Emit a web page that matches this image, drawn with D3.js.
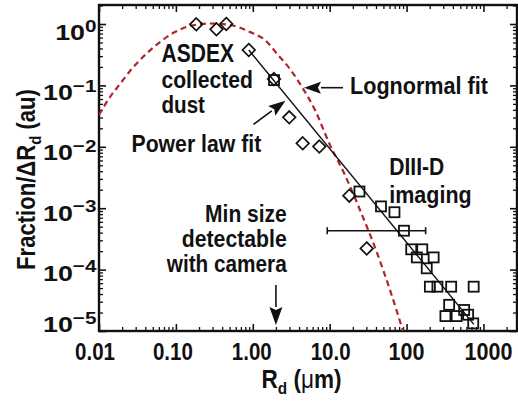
<!DOCTYPE html>
<html>
<head>
<meta charset="utf-8">
<script src="https://cdn.jsdelivr.net/npm/d3@7"></script>
<style>
  body { margin: 0; background: #fff; }
  text { font-family: "Liberation Sans", Arial, Helvetica, sans-serif; font-weight: bold; fill: #111; }
</style>
</head>
<body>
<script>
// axis ticks
const xTicks = [0.01, 0.1, 1, 10, 100, 1000];
const xTickLabels = ["0.01", "0.10", "1.00", "10.0", "100", "1000"];
const yTicks = [1, 0.1, 0.01, 1e-3, 1e-4, 1e-5];
const yTickExps = ["0", "\u22121", "\u22122", "\u22123", "\u22124", "\u22125"];

// ASDEX collected dust (diamonds)
const asdexR = [0.184, 0.337, 0.452, 0.887, 1.887, 2.98, 4.46, 7.33, 18.0, 30.3];
const asdexF = [0.99, 0.82, 1.0, 0.377, 0.127, 0.0302, 0.0114, 0.0101, 0.0016, 2.21e-4];

// DIII-D imaging (squares)
const diiidR = [1.89, 24.4, 46.5, 69.6, 92.5, 115, 160, 136, 225, 183, 201, 252, 380, 746, 358, 561, 320, 448, 632, 736];
const diiidF = [0.122, 1.87e-3, 1.07e-3, 8.6e-4, 4.3e-4, 2.14e-4, 2.14e-4, 1.58e-4, 1.58e-4, 1.05e-4,
                5.27e-5, 5.27e-5, 5.27e-5, 5.27e-5, 2.67e-5, 2.2e-5, 1.75e-5, 1.75e-5, 1.84e-5, 1.33e-5];

// horizontal error bar on one DIII-D point
const errR = [9.3, 177];
const errF = 4.3e-4;

// lognormal fit (red dashed)
const lognormR = [0.0100, 0.0139, 0.01875, 0.0253, 0.0373, 0.0621, 0.0973, 0.1524, 0.2773, 0.505, 0.920,
                  1.443, 2.128, 3.048, 4.366, 6.44, 10.1, 15.8, 24.8, 40.0, 62.7, 89.8];
const lognormF = [0.0330, 0.0647, 0.1054, 0.1717, 0.290, 0.509, 0.741, 0.928, 1.019, 0.963, 0.741,
                  0.549, 0.313, 0.185, 0.0942, 0.0397, 0.01069, 3.47e-3, 9.35e-4, 2.08e-4, 4.16e-5, 1.0e-5];

// power law fit (solid black)
const powerR = [0.887, 750];
const powerF = [0.377, 1.28e-5];

const ink = "#111";
const red = "#b3232b";

const svg = d3.select("body").append("svg")
  .attr("width", 518)
  .attr("height", 404);

const x = d3.scaleLog().domain([0.01, 2730]).range([99, 517]);
const y = d3.scaleLog().domain([1e-5, 2.04]).range([331, 5]);

svg.append("clipPath").attr("id", "plot")
  .append("rect").attr("x", 99).attr("y", 5).attr("width", 418).attr("height", 326);

// minor ticks 2..9 in each decade
const minorX = [];
for (let d = -2; d <= 3; d++) for (let m = 2; m <= 9; m++) { const v = m * Math.pow(10, d); if (v <= 2730) minorX.push(v); }
const minorY = [];
for (let d = -5; d <= 0; d++) for (let m = 2; m <= 9; m++) { const v = m * Math.pow(10, d); if (v <= 2.04) minorY.push(v); }

function tickRow(axisFn, scale, vals, size, tr, w) {
  svg.append("g").attr("transform", tr)
    .call(axisFn(scale).tickValues(vals).tickSize(size).tickSizeOuter(0).tickFormat(""))
    .call(g => g.select(".domain").remove())
    .selectAll("line").attr("stroke", ink).attr("stroke-width", w);
}
tickRow(d3.axisBottom, x, xTicks, -7, "translate(0,331)", 1.6);
tickRow(d3.axisBottom, x, minorX, -4, "translate(0,331)", 1.3);
tickRow(d3.axisTop, x, xTicks, -7, "translate(0,5)", 1.6);
tickRow(d3.axisTop, x, minorX, -4, "translate(0,5)", 1.3);
tickRow(d3.axisLeft, y, yTicks, -7, "translate(99,0)", 1.6);
tickRow(d3.axisLeft, y, minorY, -4, "translate(99,0)", 1.3);
tickRow(d3.axisRight, y, yTicks, -7, "translate(517,0)", 1.6);
tickRow(d3.axisRight, y, minorY, -4, "translate(517,0)", 1.3);

// frame
svg.append("rect")
  .attr("x", 99).attr("y", 5).attr("width", 418).attr("height", 326)
  .attr("fill", "none").attr("stroke", ink).attr("stroke-width", 2.4);

// squeeze text horizontally to the width it has in the picture
function label(px, py, anchor, size, width, build) {
  const t = svg.append("text").attr("text-anchor", anchor).attr("font-size", size);
  build(t);
  const sx = width / t.node().getBBox().width;
  t.attr("transform", `translate(${px},${py}) scale(${sx},1)`);
  return t;
}

// x tick labels
const xShift = [-4, -3, -1, 1, 0, 5];
xTicks.forEach((v, i) => {
  const w = xTickLabels[i].length === 4 ? 40 : 36;
  label(x(v) + xShift[i], 359.5, "middle", 23.5, i === 5 ? 48 : w, t => t.text(xTickLabels[i]));
});

// y tick labels, 10 with superscript
yTicks.forEach((v, i) => {
  const base = Math.min(y(v) + 16 - 1.2 * i, 332);
  const t = svg.append("text").attr("text-anchor", "end").attr("font-size", 22)
    .attr("transform", `translate(96.5,${base}) scale(1.22,1)`);
  t.append("tspan").text("10");
  t.append("tspan").attr("font-size", 17).attr("dy", -8.5).text(yTickExps[i]);
});

// axis titles
label(301.5, 388, "middle", 25, 80, t => {
  t.append("tspan").text("R");
  t.append("tspan").attr("font-size", 17).attr("dy", 6).text("d");
  t.append("tspan").attr("dy", -6).text(" (");
  t.append("tspan").attr("font-weight", "normal").text("\u03bc");
  t.append("tspan").text("m)");
});

const yTitle = svg.append("text").attr("text-anchor", "middle").attr("font-size", 25);
yTitle.append("tspan").text("Fraction/\u0394R");
yTitle.append("tspan").attr("font-size", 17).attr("dy", 6).text("d");
yTitle.append("tspan").attr("dy", -6).text(" (au)");
const yw = yTitle.node().getBBox().width;
yTitle.attr("transform", `translate(35,179.5) rotate(-90) scale(${181 / yw},1)`);

const plot = svg.append("g").attr("clip-path", "url(#plot)");

// lognormal fit
const lognorm = lognormR.map((r, i) => [r, lognormF[i]]);
plot.append("path")
  .datum(lognorm)
  .attr("fill", "none")
  .attr("stroke", red)
  .attr("stroke-width", 2.2)
  .attr("stroke-dasharray", "6,4")
  .attr("d", d3.line().x(d => x(d[0])).y(d => y(d[1])).curve(d3.curveMonotoneX));

// power law fit
plot.append("line")
  .attr("x1", x(powerR[0])).attr("y1", y(powerF[0]))
  .attr("x2", x(powerR[1])).attr("y2", y(powerF[1]))
  .attr("stroke", ink).attr("stroke-width", 1.4);

// error bar
const ey = y(errF);
plot.append("line").attr("x1", x(errR[0])).attr("x2", x(errR[1])).attr("y1", ey).attr("y2", ey)
  .attr("stroke", ink).attr("stroke-width", 1.6);
errR.forEach(r => {
  plot.append("line").attr("x1", x(r)).attr("x2", x(r)).attr("y1", ey - 3.5).attr("y2", ey + 3.5)
    .attr("stroke", ink).attr("stroke-width", 1.6);
});

// ASDEX diamonds
plot.selectAll(".dia")
  .data(asdexR.map((r, i) => [r, asdexF[i]]))
  .enter().append("path")
  .attr("class", "dia")
  .attr("d", d => {
    const cx = x(d[0]), cy = y(d[1]), h = 6.3;
    return `M${cx},${cy - h}L${cx + h},${cy}L${cx},${cy + h}L${cx - h},${cy}Z`;
  })
  .attr("fill", "none").attr("stroke", ink).attr("stroke-width", 1.7);

// DIII-D squares
plot.selectAll(".sq")
  .data(diiidR.map((r, i) => [r, diiidF[i]]))
  .enter().append("rect")
  .attr("class", "sq")
  .attr("x", d => x(d[0]) - 5).attr("y", d => y(d[1]) - 5)
  .attr("width", 10).attr("height", 10)
  .attr("fill", "none").attr("stroke", ink).attr("stroke-width", 1.8);

// arrows
function arrow(r0, f0, r1, f1, len, half) {
  const x0 = x(r0), y0 = y(f0), x1 = x(r1), y1 = y(f1);
  const a = Math.atan2(y1 - y0, x1 - x0);
  const bx = x1 - len * Math.cos(a), by = y1 - len * Math.sin(a);
  svg.append("line").attr("x1", x0).attr("y1", y0).attr("x2", bx).attr("y2", by)
    .attr("stroke", ink).attr("stroke-width", 1.6);
  const px = -Math.sin(a) * half, py = Math.cos(a) * half;
  svg.append("path")
    .attr("d", `M${x1},${y1}L${bx + px},${by + py}L${bx + 3 * Math.cos(a)},${by + 3 * Math.sin(a)}L${bx - px},${by - py}Z`)
    .attr("fill", ink);
}
arrow(14.9, 0.0918, 4.63, 0.0918, 17, 6);       // lognormal fit
arrow(1.02, 0.0231, 2.66, 0.0561, 17, 6);       // power law fit
arrow(2, 5.6e-5, 2, 1.25e-5, 18, 6.5);          // min size

// annotations
label(161.5, 61.7, "start", 25.5, 72.5, t => t.text("ASDEX"));
label(161.5, 88.3, "start", 24.5, 91.5, t => t.text("collected"));
label(161.5, 113.3, "start", 24.5, 43.5, t => t.text("dust"));
label(131.5, 151.7, "start", 23.5, 130, t => t.text("Power law fit"));
label(350, 94, "start", 24, 138, t => t.text("Lognormal fit"));
label(389.3, 175, "start", 23.5, 55, t => t.text("DIII-D"));
label(389.3, 203.3, "start", 23.5, 82.4, t => t.text("imaging"));
label(286.7, 221.7, "end", 23.5, 81.7, t => t.text("Min size"));
label(286.7, 246.7, "end", 23.5, 105, t => t.text("detectable"));
label(286.7, 271.7, "end", 23.5, 121.7, t => t.text("with camera"));
</script>
</body>
</html>
